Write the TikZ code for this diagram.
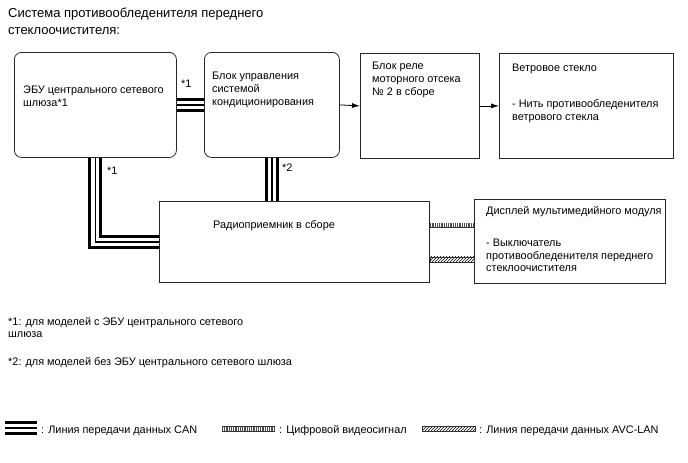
\documentclass[tikz,border=0pt]{standalone}
\usepackage{fontspec}
\setmainfont{Liberation Sans}
\usetikzlibrary{arrows.meta, patterns}

\begin{document}
\begin{tikzpicture}[
    x=1pt, y=-1pt,
    every node/.style={font=\fontsize{10.9}{13}\selectfont, inner sep=0pt},
    blk/.style={rectangle, draw=black!85, line width=0.8pt},
    rblk/.style={blk, rounded corners=7pt},
    txt/.style={anchor=base west, align=left},
    can/.style={line width=14pt, draw=black, postaction={draw=white, line width=8pt}, postaction={draw=black, line width=1.2pt}},
    video/.style={line width=5.4pt, draw=black!80, postaction={draw=white, line width=4pt}, postaction={draw=black!70, line width=4pt, dash pattern=on 0.6pt off 1.2pt}},
    avc/.style={draw=black!80, line width=0.6pt, pattern=north east lines},
    arrow/.style={-{Latex[length=8pt, width=5pt]}, line width=0.8pt}
]
\useasboundingbox (0,0) rectangle (688,463);

% title (base = last line)
\node[txt, font=\fontsize{13}{16.5}\selectfont] (title) at (8,34) {Система противообледенителя переднего\\стеклоочистителя:};

% blocks
\node[rblk, anchor=north west, minimum width=162pt, minimum height=105pt] (ecu) at (14,52) {};
\node[rblk, anchor=north west, minimum width=135pt, minimum height=105pt] (ac) at (204,52) {};
\node[blk, anchor=north west, minimum width=119pt, minimum height=105pt] (relay) at (360,53) {};
\node[blk, anchor=north west, minimum width=174pt, minimum height=105pt] (wind) at (499,53) {};
\node[blk, anchor=north west, minimum width=270pt, minimum height=81pt] (radio) at (159,201) {};
\node[blk, anchor=north west, minimum width=191pt, minimum height=84pt] (disp) at (474,199) {};

% block texts
\node[txt] (ecutxt) at (23,106.5) {ЭБУ центрального сетевого\\шлюза*1};
\node[txt] (actxt) at (212,105) {Блок управления\\системой\\кондиционирования};
\node[txt] (relaytxt) at (372,95) {Блок реле\\моторного отсека\\№ 2 в сборе};
\node[txt] (windtitle) at (512,71.5) {Ветровое стекло};
\node[txt] (windtxt) at (512,120) {- Нить противообледенителя\\ветрового стекла};
\node[txt] (radiotxt) at (213,228.5) {Радиоприемник в сборе};
\node[txt] (disptitle) at (486,214.5) {Дисплей мультимедийного модуля};
\node[txt, font=\fontsize{10.9}{12.5}\selectfont] (disptxt) at (486,271.5) {- Выключатель\\противообледенителя переднего\\стеклоочистителя};

% CAN lines
\draw[can] (ecu.east) -- (ac.west);
\draw[can] (ecu.south) |- (radio.west);
\draw[can] (ac.south) -- (ac.south |- radio.north);
\node[txt] (n1a) at (181,87) {*1};
\node[txt] (n1b) at (107,174) {*1};
\node[txt] (n2) at (282,171) {*2};

% arrows
\draw[arrow] (ac.east) -- (relay.west);
\draw[arrow] (relay.east) -- (wind.west);

% video and AVC-LAN
\coordinate (vidA) at ([yshift=16.5pt]radio.east);
\draw[video] (vidA) -- (vidA -| disp.west);
\coordinate (avcA) at ([yshift=-17.5pt]radio.east);
\coordinate (avcB) at (avcA -| disp.west);
\draw[avc] ([yshift=2.5pt]avcA) rectangle ([yshift=-2.5pt]avcB);

% notes
\node[txt, font=\fontsize{10.9}{12.5}\selectfont] (note1) at (8,337.5) {*1: для моделей с ЭБУ центрального сетевого\\шлюза};
\node[txt] (note2) at (8,365) {*2: для моделей без ЭБУ центрального сетевого шлюза};

% legend
\coordinate (lgcanA) at (5,428);
\coordinate (lgcanB) at (37,428);
\draw[can] (lgcanA) -- (lgcanB);
\node[txt] (lgcan) at (41,433) {: Линия передачи данных CAN};
\coordinate (lgvidA) at (222,429);
\coordinate (lgvidB) at (275,429);
\draw[video] (lgvidA) -- (lgvidB);
\node[txt] (lgvid) at (279,433) {: Цифровой видеосигнал};
\coordinate (lgavcA) at (422,429);
\coordinate (lgavcB) at (475,429);
\draw[avc] ([yshift=2.5pt]lgavcA) rectangle ([yshift=-2.5pt]lgavcB);
\node[txt] (lgavc) at (479,433) {: Линия передачи данных AVC-LAN};

\end{tikzpicture}
\end{document}
